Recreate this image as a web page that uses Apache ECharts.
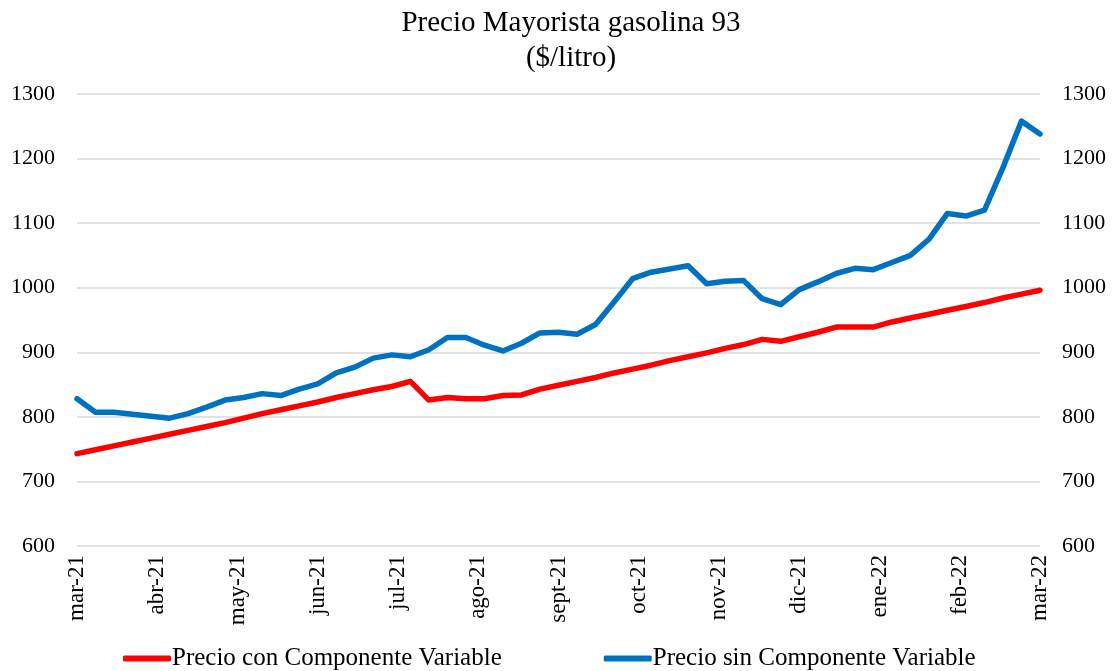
<!DOCTYPE html>
<html>
<head>
<meta charset="utf-8">
<script src="https://cdn.jsdelivr.net/npm/echarts@6/dist/echarts.min.js"></script>
<style>html,body{margin:0;padding:0;background:#fff}#c{width:1117px;height:671px}</style>
</head>
<body>
<div id="c"></div>
<script>
// Weekly observation dates (53 weeks, mar-21 .. mar-22)
const weeks = [
  "2021-03-01","2021-03-08","2021-03-15","2021-03-22","2021-03-29","2021-04-05","2021-04-12","2021-04-19","2021-04-26",
  "2021-05-03","2021-05-10","2021-05-17","2021-05-24","2021-05-31","2021-06-07","2021-06-14","2021-06-21","2021-06-28",
  "2021-07-05","2021-07-12","2021-07-19","2021-07-26","2021-08-02","2021-08-09","2021-08-16","2021-08-23","2021-08-30",
  "2021-09-06","2021-09-13","2021-09-20","2021-09-27","2021-10-04","2021-10-11","2021-10-18","2021-10-25","2021-11-01",
  "2021-11-08","2021-11-15","2021-11-22","2021-11-29","2021-12-06","2021-12-13","2021-12-20","2021-12-27","2022-01-03",
  "2022-01-10","2022-01-17","2022-01-24","2022-01-31","2022-02-07","2022-02-14","2022-02-21","2022-02-28"
];
const monthLabels = ["mar-21","abr-21","may-21","jun-21","jul-21","ago-21","sept-21","oct-21","nov-21","dic-21","ene-22","feb-22","mar-22"];
const conComponente = [
  743,749,755,761,767,773,779,785,791,798,
  805,811,817,823,830,836,842,847,855,826,
  830,828,828,833,834,843,849,855,861,868,
  874,880,887,893,899,906,912,920,917,924,
  931,939,939,939,947,953,959,965,971,977,
  984,990,996
];
const sinComponente = [
  828,807,807,804,801,798,805,815,826,830,
  836,833,843,851,868,877,891,896,893,904,
  923,923,911,902,914,930,931,928,943,978,
  1014,1024,1029,1034,1006,1010,1011,983,974,997,
  1009,1022,1030,1028,1039,1050,1075,1115,1111,1120,
  1186,1258,1238
];
const yTicks = { min: 600, max: 1300, interval: 100 };
const seriesNames = ["Precio con Componente Variable","Precio sin Componente Variable"];

const FONT = "Liberation Serif";
const chart = echarts.init(document.getElementById('c'), null, { renderer: 'canvas' });
chart.setOption({
  backgroundColor: '#fff',
  animation: false,
  title: {
    text: 'Precio Mayorista gasolina 93\n($/litro)',
    left: 566, top: 1, textAlign: 'center',
    textStyle: { fontFamily: FONT, fontSize: 29, fontWeight: 'normal', color: '#000', lineHeight: 35 }
  },
  legend: {
    top: 641, left: 118,
    itemGap: 102, itemWidth: 48, itemHeight: 6, icon: 'roundRect',
    textStyle: { fontFamily: FONT, fontSize: 25, color: '#000', padding: [0, 0, 0, -4] },
    data: seriesNames
  },
  grid: { left: 77, right: 77, top: 94, bottom: 125, containLabel: false },
  xAxis: [
    {
      type: 'category', data: weeks, boundaryGap: false,
      axisLine: { show: false }, axisTick: { show: false }, axisLabel: { show: false }, splitLine: { show: false }
    },
    {
      type: 'value', min: 0, max: 12, interval: 1, position: 'bottom',
      axisLine: { show: false }, axisTick: { show: false }, splitLine: { show: false },
      axisLabel: {
        rotate: 90, margin: 9, fontFamily: FONT, fontSize: 23, color: '#000',
        formatter: v => monthLabels[Math.round(v)] || ''
      }
    }
  ],
  yAxis: [
    {
      type: 'value', min: yTicks.min, max: yTicks.max, interval: yTicks.interval, position: 'left',
      axisLine: { show: false }, axisTick: { show: false },
      splitLine: { lineStyle: { color: '#d9d9d9', width: 1.5 } },
      axisLabel: { margin: 22, fontFamily: FONT, fontSize: 22, color: '#000', formatter: v => String(v) }
    },
    {
      type: 'value', min: yTicks.min, max: yTicks.max, interval: yTicks.interval, position: 'right',
      axisLine: { show: false }, axisTick: { show: false }, splitLine: { show: false },
      axisLabel: { margin: 22, fontFamily: FONT, fontSize: 22, color: '#000', formatter: v => String(v) }
    }
  ],
  series: [
    {
      name: seriesNames[0], type: 'line', data: conComponente, xAxisIndex: 0, yAxisIndex: 0,
      showSymbol: false, symbol: 'none', color: '#ff0000',
      lineStyle: { width: 5.5, color: '#ff0000', cap: 'round', join: 'round' }
    },
    {
      name: seriesNames[1], type: 'line', data: sinComponente, xAxisIndex: 0, yAxisIndex: 0,
      showSymbol: false, symbol: 'none', color: '#0070c0',
      lineStyle: { width: 5.5, color: '#0070c0', cap: 'round', join: 'round' }
    }
  ]
});
</script>
</body>
</html>
